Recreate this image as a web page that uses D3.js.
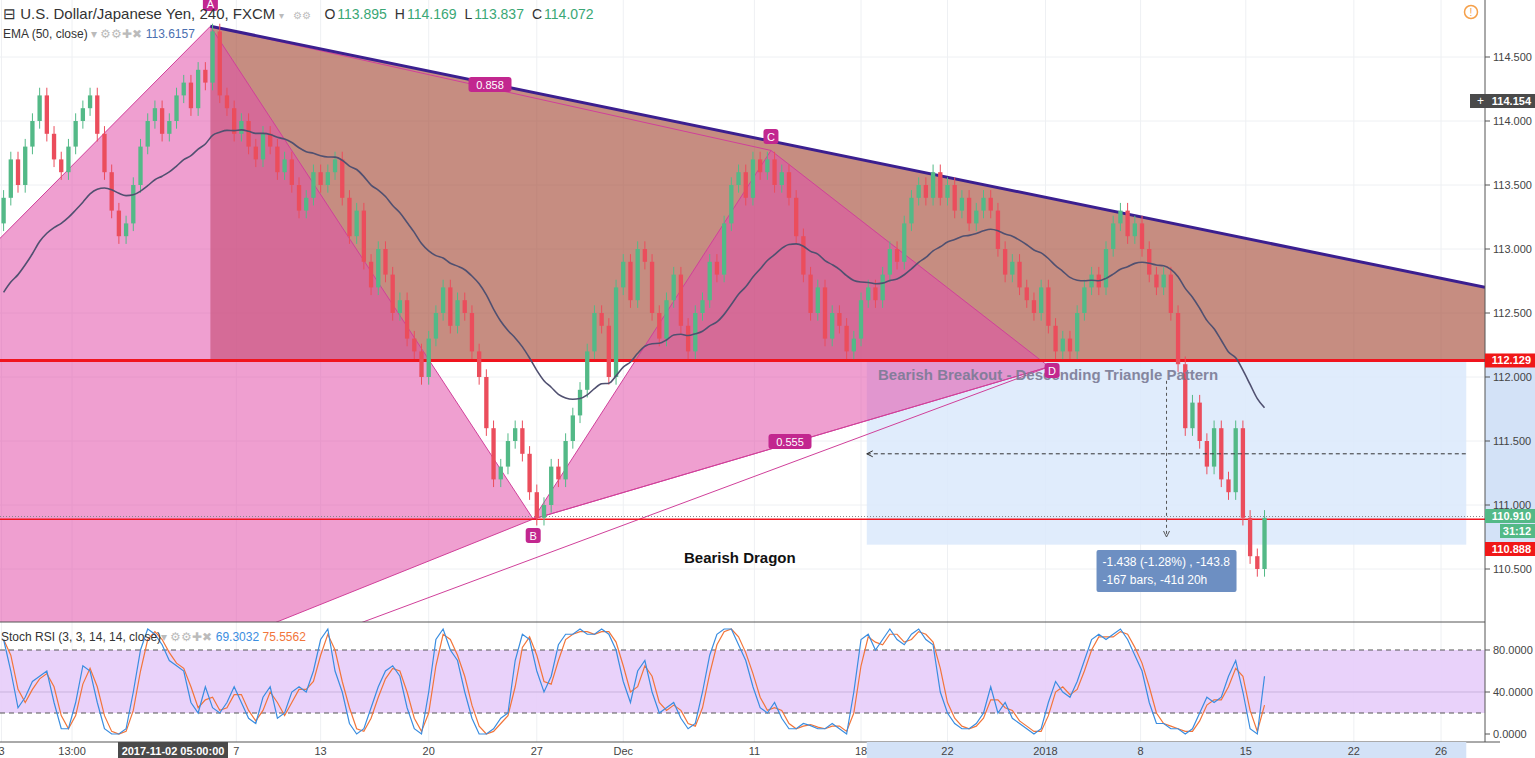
<!DOCTYPE html>
<html><head><meta charset="utf-8">
<script src="https://cdn.jsdelivr.net/npm/d3@7"></script>
<style>body{margin:0;background:#fff;font-family:"Liberation Sans",Arial,sans-serif}</style>
</head><body><svg id="c" width="1535" height="758"></svg>
<script>
// 4H-ish bars (one per two candles), closes
const closes = [
  113.4,113.7,113.5,113.8,114.0,114.2,113.9,113.7,113.6,113.8,
  114.0,114.1,114.2,113.9,113.6,113.3,113.1,113.2,113.5,113.8,
  114.0,114.1,113.9,114.0,114.2,114.3,114.1,114.4,114.3,114.7,
  114.2,114.1,113.9,114.0,113.8,113.7,113.9,113.8,113.6,113.7,
  113.5,113.3,113.4,113.6,113.5,113.6,113.7,113.4,113.1,113.3,
  112.9,112.7,113.0,112.8,112.5,112.6,112.3,112.2,112.0,112.3,
  112.5,112.7,112.4,112.6,112.5,112.2,112.0,111.6,111.2,111.3,
  111.5,111.6,111.4,111.1,110.9,111.0,111.3,111.2,111.5,111.7,
  111.9,112.2,112.5,112.4,112.0,112.7,112.9,112.6,113.0,112.9,
  112.5,112.3,112.6,112.8,112.4,112.2,112.5,112.6,112.9,112.8,
  113.2,113.5,113.6,113.4,113.7,113.6,113.7,113.5,113.6,113.4,
  113.1,112.8,112.5,112.7,112.3,112.5,112.4,112.2,112.3,112.6,
  112.7,112.6,112.8,113.0,112.9,113.2,113.4,113.5,113.4,113.6,
  113.4,113.5,113.3,113.4,113.2,113.3,113.4,113.3,113.0,112.8,
  112.9,112.7,112.6,112.5,112.7,112.4,112.2,112.3,112.2,112.5,
  112.7,112.8,112.7,113.0,113.2,113.3,113.1,113.2,113.0,112.8,
  112.7,112.8,112.5,112.1,111.6,111.8,111.5,111.3,111.6,111.2,
  111.1,111.6,110.9,110.6,110.5,110.9
];
const firstOpen = 113.2;
const emaSeed = 112.6;
const emaPeriod = 25;
const stochK = [
  90,60,25,35,50,55,60,30,5,5, 30,65,60,30,5,0,0,5,40,80,
  100,95,85,70,65,60,30,20,45,25, 20,30,45,30,15,10,35,45,15,20,
  40,45,40,60,90,100,60,40,10,0, 5,25,45,60,65,55,25,5,0,40,
  90,100,80,70,40,15,0,0,5,15, 20,70,95,90,60,40,55,85,95,95,
  100,95,95,100,95,80,50,30,60,70, 40,20,25,30,15,5,10,40,75,95,
  100,100,85,70,45,25,20,30,15,5, 5,10,8,5,5,10,5,0,40,90,
  95,80,90,100,90,85,95,100,90,85, 40,20,10,5,5,10,20,45,20,30,
  15,10,5,0,5,30,50,40,35,50, 70,90,95,90,95,100,90,75,60,30,
  10,10,5,5,0,5,20,35,30,35, 55,70,40,5,0,55
];
const timeLabels = ["3","13:00","7","13","20","27","Dec","11","18","22","2018","8","15","22","26"];
const timeIdx = [-0.3,9.5,32.3,44,59,74,86,104.2,119,131,144.6,157.8,172.4,187.4,199.5];
const priceTicks = [110.5,111,111.5,112,112.5,113,113.5,114,114.5];
const stochTicks = [0,40,80];
// pattern points [bar index, price]
const pX = [-113.7,106.66], pA = [28.7,114.74], pB = [73.5,110.89], pC = [106.5,113.77], pD = [145.1,112.08];
const triRight = [205.6,112.70];
const rangeBox = {i0:119.8, i1:203, top:112.129, bot:110.69, mid:111.40, vx:161.4};

const svg = d3.select("#c");
const W = 1485, mainB = 622, stB = 742;
const x = d3.scaleLinear().domain([-0.5,205.6]).range([0,W]);
const y = d3.scaleLinear().domain([110.0,114.5+57/128]).range([57+4.5*128,0]);
const ys = d3.scaleLinear().domain([0,80]).range([734,650]);
const P = p => [x(p[0]), y(p[1])];

const defs = svg.append("defs");
defs.append("clipPath").attr("id","mc").append("rect").attr("width",W).attr("height",mainB);
defs.append("clipPath").attr("id","sc").append("rect").attr("y",mainB).attr("width",W).attr("height",stB-mainB);

// grid
const grid = svg.append("g").attr("stroke","#eef0f3");
timeIdx.forEach(t => grid.append("line").attr("x1",x(t)).attr("x2",x(t)).attr("y1",0).attr("y2",stB));
priceTicks.forEach(p => grid.append("line").attr("x1",0).attr("x2",W).attr("y1",y(p)).attr("y2",y(p)));

const m = svg.append("g").attr("clip-path","url(#mc)");
// range box
m.append("rect").attr("x",x(rangeBox.i0)).attr("width",x(rangeBox.i1)-x(rangeBox.i0))
  .attr("y",y(rangeBox.top)).attr("height",y(rangeBox.bot)-y(rangeBox.top)).attr("fill","#dbe9fb").attr("opacity",0.85);
// descending triangle
m.append("path").attr("d",d3.line()([P(pA),P(triRight),[x(triRight[0]),y(112.129)],[x(pA[0]),y(112.129)]]))
  .attr("fill","rgba(168,80,62,0.65)");
// harmonic triangles
const pink = "rgba(225,80,170,0.55)";
m.append("path").attr("d",d3.line()([P(pX),P(pA),P(pB)])+"Z").attr("fill",pink).attr("stroke","#d0409a");
m.append("path").attr("d",d3.line()([P(pB),P(pC),P(pD)])+"Z").attr("fill",pink).attr("stroke","#d0409a");
[[pA,pC],[pB,pD],[pX,pD]].forEach(([a,b]) => m.append("line").attr("x1",P(a)[0]).attr("y1",P(a)[1])
  .attr("x2",P(b)[0]).attr("y2",P(b)[1]).attr("stroke","#d0409a"));
// top trendline
m.append("line").attr("x1",x(pA[0])).attr("y1",y(pA[1])).attr("x2",x(triRight[0])).attr("y2",y(triRight[1]))
  .attr("stroke","#3b1f8f").attr("stroke-width",3);
// horizontal levels
m.append("line").attr("x1",0).attr("x2",W).attr("y1",y(112.129)).attr("y2",y(112.129)).attr("stroke","#f0141e").attr("stroke-width",3);
m.append("line").attr("x1",0).attr("x2",W).attr("y1",y(110.91)).attr("y2",y(110.91)).attr("stroke","#888").attr("stroke-dasharray","1,2");
m.append("line").attr("x1",0).attr("x2",W).attr("y1",y(110.888)).attr("y2",y(110.888)).attr("stroke","#f0141e").attr("stroke-width",1.5);

// candles
const bw = x(1)-x(0);
const bars = closes.map((c,i) => {
  const o = i ? closes[i-1] : firstOpen;
  return {i,o,c,h:Math.max(o,c)+0.06,l:Math.min(o,c)-0.06};
});
const cg = m.append("g");
bars.forEach(b => {
  const col = b.c >= b.o ? "#53b987" : "#eb4d5c";
  cg.append("line").attr("x1",x(b.i)).attr("x2",x(b.i)).attr("y1",y(b.h)).attr("y2",y(b.l)).attr("stroke",col);
  cg.append("rect").attr("x",x(b.i)-bw*0.3).attr("width",bw*0.6)
    .attr("y",y(Math.max(b.o,b.c))).attr("height",Math.max(1,Math.abs(y(b.o)-y(b.c)))).attr("fill",col);
});
// EMA
let e = emaSeed; const k = 2/(emaPeriod+1);
const ema = closes.map(c => (e = c*k + e*(1-k)));
m.append("path").attr("d",d3.line().x((d,i)=>x(i)).y(d=>y(d)).curve(d3.curveMonotoneX)(ema))
  .attr("fill","none").attr("stroke","#505070").attr("stroke-width",1.6);

// range measure
m.append("line").attr("x1",x(rangeBox.i0)).attr("x2",x(rangeBox.i1)).attr("y1",y(rangeBox.mid)).attr("y2",y(rangeBox.mid))
  .attr("stroke","#333").attr("stroke-dasharray","4,3");
m.append("path").attr("d",`M${x(rangeBox.i0)+6},${y(rangeBox.mid)-3}L${x(rangeBox.i0)},${y(rangeBox.mid)}L${x(rangeBox.i0)+6},${y(rangeBox.mid)+3}`).attr("fill","none").attr("stroke","#333");
m.append("line").attr("x1",x(rangeBox.vx)).attr("x2",x(rangeBox.vx)).attr("y1",y(111.97)).attr("y2",y(110.75))
  .attr("stroke","#555").attr("stroke-dasharray","3,3");
m.append("path").attr("d",`M${x(rangeBox.vx)-3},${y(110.75)-6}L${x(rangeBox.vx)},${y(110.75)}L${x(rangeBox.vx)+3},${y(110.75)-6}`).attr("fill","none").attr("stroke","#555");
const bx = x(rangeBox.vx)-70;
m.append("rect").attr("x",bx).attr("y",550).attr("width",140).attr("height",42).attr("rx",2).attr("fill","#6d8fc2");
m.append("text").attr("x",bx+6).attr("y",566).attr("fill","#fff").attr("font-size",12).text("-1.438 (-1.28%) , -143.8");
m.append("text").attr("x",bx+6).attr("y",584).attr("fill","#fff").attr("font-size",12).text("-167 bars, -41d 20h");

m.append("text").attr("x",878).attr("y",380).attr("font-size",15).attr("font-weight","bold").attr("fill","#7b7b96").attr("opacity",0.9)
  .text("Bearish Breakout - Descending Triangle Pattern");
m.append("text").attr("x",684).attr("y",563).attr("font-size",15).attr("font-weight","bold").attr("fill","#111").text("Bearish Dragon");

function tag(t, cx, cy) {
  const w = t.length*7+8;
  svg.append("rect").attr("x",cx-w/2).attr("y",cy-8).attr("width",w).attr("height",15).attr("rx",3).attr("fill","#c2278f");
  svg.append("text").attr("x",cx).attr("y",cy+4).attr("text-anchor","middle").attr("fill","#fff").attr("font-size",11).text(t);
}
tag("A",x(pA[0]),4); tag("C",x(pC[0]),137); tag("D",x(pD[0])+3,371); tag("B",x(pB[0]),536);
tag("0.858",490,85); tag("0.555",790,442);

// stoch pane
svg.append("line").attr("x1",0).attr("x2",W).attr("y1",mainB).attr("y2",mainB).attr("stroke","#555");
svg.append("rect").attr("x",0).attr("width",W).attr("y",ys(80)).attr("height",ys(20)-ys(80)).attr("fill","#e7cdfa").attr("opacity",0.9);
[80,20].forEach(v => svg.append("line").attr("x1",0).attr("x2",W).attr("y1",ys(v)).attr("y2",ys(v)).attr("stroke","#555").attr("stroke-dasharray","5,4"));
svg.append("line").attr("x1",0).attr("x2",W).attr("y1",ys(40)).attr("y2",ys(40)).attr("stroke","#c9b3dd");
const stD = stochK.map((v,i) => d3.mean(stochK.slice(Math.max(0,i-1),i+1)));
const sl = d3.line().x((d,i)=>x(i)).y(d=>ys(d));
const sg = svg.append("g").attr("clip-path","url(#sc)");
sg.append("path").attr("d",sl(stD)).attr("fill","none").attr("stroke","#f2753a").attr("stroke-width",1.2);
sg.append("path").attr("d",sl(stochK)).attr("fill","none").attr("stroke","#3a8de0").attr("stroke-width",1.2);

// right axis
svg.append("rect").attr("x",W).attr("y",y(112.129)).attr("width",50).attr("height",y(110.69)-y(112.129)).attr("fill","#d3e2f7");
svg.append("line").attr("x1",W).attr("x2",W).attr("y1",0).attr("y2",stB).attr("stroke","#555");
svg.append("line").attr("x1",0).attr("x2",1500).attr("y1",stB).attr("y2",stB).attr("stroke","#555");
priceTicks.forEach(p => {
  svg.append("line").attr("x1",W).attr("x2",W+5).attr("y1",y(p)).attr("y2",y(p)).attr("stroke","#555");
  svg.append("text").attr("x",W+8).attr("y",y(p)+4).attr("font-size",11).attr("fill","#444").text(p.toFixed(3));
});
stochTicks.forEach(v => {
  svg.append("line").attr("x1",W).attr("x2",W+5).attr("y1",ys(v)).attr("y2",ys(v)).attr("stroke","#555");
  svg.append("text").attr("x",W+8).attr("y",ys(v)+4).attr("font-size",11).attr("fill","#444").text(v.toFixed(4));
});
function ptag(t, yy, col, x0) {
  svg.append("rect").attr("x",x0||W).attr("y",yy-7).attr("width",1535-(x0||W)).attr("height",14).attr("fill",col);
  svg.append("text").attr("x",1531).attr("y",yy+4).attr("text-anchor","end").attr("font-size",11).attr("font-weight","bold").attr("fill","#fff").text(t);
}
ptag("114.154",101,"#4a4a4a",1470);
svg.append("text").attr("x",1477).attr("y",105).attr("font-size",12).attr("fill","#fff").text("+");
ptag("112.129",y(112.129),"#f01818");
ptag("110.910",516,"#53b987");
ptag("31:12",531,"#53b987",1500);
ptag("110.888",549,"#f01818");
svg.append("circle").attr("cx",1471).attr("cy",12).attr("r",6.5).attr("fill","none").attr("stroke","#f5a04a").attr("stroke-width",1.5);
svg.append("text").attr("x",1471).attr("y",16).attr("text-anchor","middle").attr("font-size",10).attr("fill","#f5a04a").text("!");

// time axis
svg.append("rect").attr("x",x(119.8)).attr("y",stB).attr("width",x(203)-x(119.8)).attr("height",16).attr("fill","#d3e2f7");
timeLabels.forEach((t,i) => svg.append("text").attr("x",x(timeIdx[i])).attr("y",755).attr("text-anchor","middle")
  .attr("font-size",11).attr("fill","#444").text(t));
svg.append("rect").attr("x",118).attr("y",stB).attr("width",110).attr("height",16).attr("fill","#4a4a4a");
svg.append("text").attr("x",173).attr("y",755).attr("text-anchor","middle").attr("font-size",11).attr("font-weight","bold").attr("fill","#fff").text("2017-11-02 05:00:00");

// legends
const hd = svg.append("text").attr("x",3).attr("y",19).attr("font-size",15).attr("fill","#333").attr("xml:space","preserve");
hd.append("tspan").text("⊟ U.S. Dollar/Japanese Yen, 240, FXCM ");
hd.append("tspan").attr("fill","#bbb").attr("font-size",10).text("▾   ⚙⚙  ");
[["O","113.895"],["H","114.169"],["L","113.837"],["C","114.072"]].forEach(([a,b]) => {
  hd.append("tspan").attr("font-size",14).attr("dx",8).text(a); hd.append("tspan").attr("font-size",14).attr("dx",2).attr("fill","#3aa775").text(b);
});
const el = svg.append("text").attr("x",3).attr("y",38).attr("font-size",12).attr("fill","#333");
el.append("tspan").text("EMA (50, close) "); el.append("tspan").attr("fill","#bbb").text("▾ ⚙⚙✚✖ ");
el.append("tspan").attr("fill","#4a6fb0").text("113.6157");
const sl2 = svg.append("text").attr("x",1).attr("y",641).attr("font-size",12).attr("fill","#333");
sl2.append("tspan").text("Stoch RSI (3, 3, 14, 14, close)"); sl2.append("tspan").attr("fill","#bbb").text("▾ ⚙⚙✚✖ ");
sl2.append("tspan").attr("fill","#3a8de0").text("69.3032 "); sl2.append("tspan").attr("fill","#f2753a").text(" 75.5562");
</script></body></html>
